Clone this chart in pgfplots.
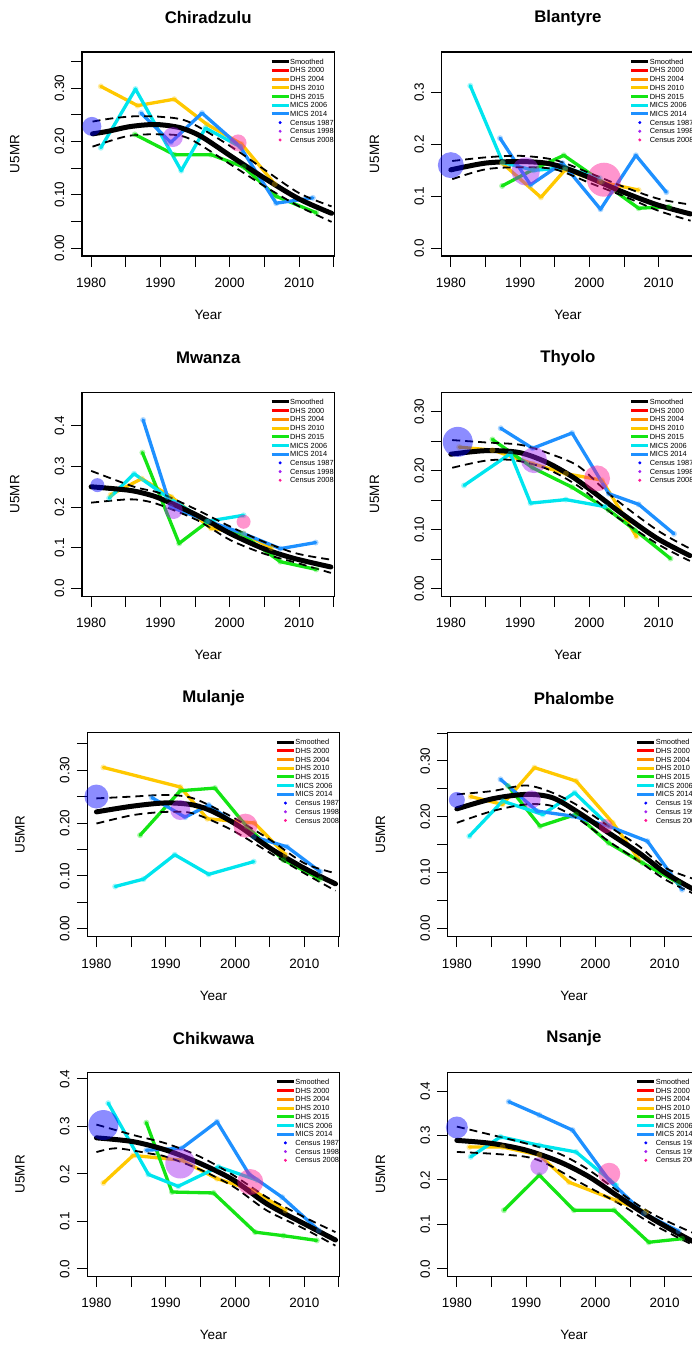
\documentclass[border=0pt]{standalone}
\usepackage{pgfplots}
\pgfplotsset{compat=1.18}
\usepackage{fontspec}
\setmainfont{Liberation Sans}
\definecolor{cDHSa}{RGB}{255,0,0}
\definecolor{cDHSb}{RGB}{255,140,0}
\definecolor{cDHSc}{RGB}{255,200,0}
\definecolor{cDHSd}{RGB}{20,228,20}
\definecolor{cMICSa}{RGB}{0,229,238}
\definecolor{cMICSb}{RGB}{30,144,255}
\definecolor{cCa}{RGB}{0,0,255}
\definecolor{cCb}{RGB}{160,32,240}
\definecolor{cCc}{RGB}{255,20,147}
\pgfplotsset{
 panel/.style={
   scale only axis, width=252.5pt, height=204pt, anchor=north west,
   xmin=1978.68, xmax=2015.12, clip=false,
   axis line style={line width=1.1pt},
   tick align=outside, tick pos=left, major tick length=10.5pt,
   every tick/.style={black, line width=1pt},
   xtick={1980,1985,...,2015}, xticklabels={1980,,1990,,2000,,2010,},
   tick label style={font=\fontsize{13.5}{14}\selectfont},
   xticklabel style={anchor=north, inner sep=0pt}, xticklabel shift=11.5pt,
   yticklabel style={rotate=90, anchor=south, inner sep=0pt}, yticklabel shift=7pt,
   title style={at={(axis description cs:0.5,1.167)}, anchor=center, yshift=-6pt, font=\bfseries\fontsize{16.8}{17}\selectfont},
   xlabel={Year}, ylabel={U5MR},
   xlabel style={at={(axis description cs:0.5,-0.289)}, anchor=center, font=\fontsize{13.5}{14}\selectfont},
   ylabel style={at={(axis description cs:-0.266,0.5)}, anchor=center, font=\fontsize{13.5}{14}\selectfont},
   legend cell align=left,
   legend style={at={(axis description cs:0.745,0.974)}, anchor=north west, draw=none, fill=none,
     inner sep=0pt, outer sep=0pt, font=\fontsize{7.4}{8}\selectfont, row sep=0pt,
     nodes={inner sep=0pt, text height=6.95pt, text depth=1.75pt},
     /tikz/every even column/.append style={column sep=3pt}},
 },
 ser/.style={line width=3.3pt, line join=round, line cap=round, mark=*, mark size=3pt,
   mark options={fill opacity=0.35, draw opacity=0}, forget plot},
 sm/.style={black, line width=5pt, smooth, line cap=round, forget plot},
 ci/.style={black, line width=1.8pt, dash pattern=on 8pt off 5pt, smooth, forget plot},
 cen/.style={only marks, mark=*, mark options={fill opacity=0.45, draw opacity=0}, forget plot},
}
\newcommand{\panellegend}{%
 \addlegendimage{legend image code/.code={\draw[black,line width=3pt] (0pt,0pt)--(17pt,0pt);}}\addlegendentry{Smoothed}
 \addlegendimage{legend image code/.code={\draw[cDHSa,line width=3pt] (0pt,0pt)--(17pt,0pt);}}\addlegendentry{DHS 2000}
 \addlegendimage{legend image code/.code={\draw[cDHSb,line width=3pt] (0pt,0pt)--(17pt,0pt);}}\addlegendentry{DHS 2004}
 \addlegendimage{legend image code/.code={\draw[cDHSc,line width=3pt] (0pt,0pt)--(17pt,0pt);}}\addlegendentry{DHS 2010}
 \addlegendimage{legend image code/.code={\draw[cDHSd,line width=3pt] (0pt,0pt)--(17pt,0pt);}}\addlegendentry{DHS 2015}
 \addlegendimage{legend image code/.code={\draw[cMICSa,line width=3pt] (0pt,0pt)--(17pt,0pt);}}\addlegendentry{MICS 2006}
 \addlegendimage{legend image code/.code={\draw[cMICSb,line width=3pt] (0pt,0pt)--(17pt,0pt);}}\addlegendentry{MICS 2014}
 \addlegendimage{legend image code/.code={\fill[cCa] (8.5pt,0pt) circle (1.3pt);}}\addlegendentry{Census 1987}
 \addlegendimage{legend image code/.code={\fill[cCb] (8.5pt,0pt) circle (1.3pt);}}\addlegendentry{Census 1998}
 \addlegendimage{legend image code/.code={\fill[cCc] (8.5pt,0pt) circle (1.3pt);}}\addlegendentry{Census 2008}
}
\begin{document}
\begin{tikzpicture}
\useasboundingbox (0pt,0pt) rectangle (692pt,-1347pt);
% ---------------- Chiradzulu
\begin{axis}[panel, at={(82pt,-52pt)}, title={Chiradzulu}, ymin=-0.015, ymax=0.3675,
  ytick={0,0.05,...,0.36}, yticklabels={0.00,,0.10,,0.20,,0.30,}]
\addplot[ser, cDHSc] coordinates {(1981.4,0.303)(1986.7,0.267)(1992,0.279)(1996.7,0.232)(2001.7,0.195)(2006.5,0.12)};
\addplot[ser, cDHSd] coordinates {(1986.3,0.213)(1992,0.175)(1997.3,0.175)(2002,0.152)(2006.7,0.097)(2012.5,0.066)};
\addplot[ser, cMICSa] coordinates {(1981.4,0.188)(1986.4,0.298)(1993,0.145)(1996.5,0.225)(2001.5,0.19)};
\addplot[ser, cMICSb] coordinates {(1987.2,0.253)(1991.5,0.198)(1996,0.253)(2001.5,0.19)(2006.7,0.084)(2012,0.094)};
\addplot[sm] coordinates {(1980.2,0.214)(1982.5,0.219)(1985.3,0.227)(1988,0.231)(1990.1,0.231)(1993,0.225)(1995.9,0.209)(2000.2,0.172)(2005,0.131)(2010,0.092)(2014.7,0.065)};
\addplot[ci] coordinates {(1980.2,0.237)(1983,0.243)(1986.3,0.247)(1990,0.246)(1994,0.237)(2000.2,0.19)(2005,0.147)(2010,0.103)(2014.7,0.078)};
\addplot[ci] coordinates {(1980.2,0.19)(1985.3,0.21)(1990,0.213)(1994,0.206)(2000.2,0.156)(2005,0.116)(2010,0.078)(2014.7,0.049)};
\addplot[cen, cCa, mark size=9.5pt] coordinates {(1980.1,0.228)};
\addplot[cen, cCb, mark size=10pt] coordinates {(1991.8,0.208)};
\addplot[cen, cCc, mark size=8.5pt] coordinates {(2001.2,0.197)};
\panellegend
\end{axis}
% ---------------- Blantyre
\begin{axis}[panel, at={(441.7pt,-52pt)}, title={Blantyre}, ymin=-0.015, ymax=0.378,
  ytick={0,0.1,0.2,0.3}, yticklabels={0.0,0.1,0.2,0.3}]
\addplot[ser, cDHSc] coordinates {(1987.4,0.164)(1993,0.098)(1996.5,0.151)(2001.5,0.128)(2007.1,0.112)};
\addplot[ser, cDHSd] coordinates {(1987.4,0.12)(1991.8,0.151)(1996.3,0.179)(2001.8,0.128)(2007.1,0.077)(2011.5,0.08)};
\addplot[ser, cMICSa] coordinates {(1982.8,0.313)(1987.5,0.165)(1992,0.15)(1996.5,0.155)(2001.5,0.135)};
\addplot[ser, cMICSb] coordinates {(1987.1,0.212)(1991.5,0.122)(1996.1,0.164)(2001.6,0.075)(2006.7,0.179)(2011.1,0.108)};
\addplot[sm] coordinates {(1980,0.151)(1985,0.164)(1989.8,0.167)(1993.7,0.164)(1996.6,0.154)(2000.2,0.135)(2004.7,0.109)(2009.8,0.0835)(2014.6,0.066)};
\addplot[ci] coordinates {(1980.2,0.168)(1985,0.175)(1990,0.178)(1995,0.17)(2000,0.145)(2005,0.118)(2010,0.095)(2014.6,0.084)};
\addplot[ci] coordinates {(1980.2,0.133)(1985,0.152)(1990,0.156)(1995,0.152)(2000,0.126)(2005,0.10)(2010,0.072)(2014.6,0.053)};
\addplot[cen, cCa, mark size=13pt] coordinates {(1980,0.16)};
\addplot[cen, cCb, mark size=14pt] coordinates {(1990.8,0.148)};
\addplot[cen, cCc, mark size=17pt] coordinates {(2002.1,0.132)};
\panellegend
\end{axis}
% ---------------- Mwanza
\begin{axis}[panel, at={(82pt,-392.3pt)}, title={Mwanza}, ymin=-0.019, ymax=0.482,
  ytick={0,0.1,0.2,0.3,0.4}, yticklabels={0.0,0.1,0.2,0.3,0.4}]
\addplot[ser, cDHSc] coordinates {(1982.8,0.23)(1987.3,0.27)(1991.6,0.225)(1997.3,0.148)(2002,0.135)(2006,0.1)};
\addplot[ser, cDHSd] coordinates {(1987.4,0.334)(1992.7,0.111)(1996.8,0.164)(2001.6,0.135)(2007.3,0.066)(2012.5,0.047)};
\addplot[ser, cMICSa] coordinates {(1982.6,0.222)(1986.2,0.282)(1991,0.225)(1996.7,0.165)(2002,0.18)};
\addplot[ser, cMICSb] coordinates {(1987.5,0.414)(1991.5,0.2)(1997,0.165)(2002,0.135)(2007.3,0.098)(2012.4,0.113)};
\addplot[sm] coordinates {(1980,0.25)(1985.2,0.242)(1987.6,0.234)(1990,0.221)(1995.3,0.18)(2000.1,0.135)(2004.9,0.098)(2009.3,0.074)(2014.6,0.053)};
\addplot[ci] coordinates {(1980,0.289)(1986.2,0.25)(1990,0.234)(1995.3,0.193)(2000.1,0.152)(2004.9,0.115)(2009.7,0.086)(2014.6,0.071)};
\addplot[ci] coordinates {(1980,0.211)(1985.2,0.219)(1987.6,0.216)(1990,0.205)(1995.3,0.168)(2000.1,0.119)(2004.9,0.086)(2009.7,0.063)(2014.6,0.0385)};
\addplot[cen, cCa, mark size=7pt] coordinates {(1980.9,0.254)};
\addplot[cen, cCb, mark size=9pt] coordinates {(1991.9,0.193)};
\addplot[cen, cCc, mark size=7pt] coordinates {(2002,0.164)};
\panellegend
\end{axis}
% ---------------- Thyolo
\begin{axis}[panel, at={(441.7pt,-392.3pt)}, title={Thyolo}, ymin=-0.013, ymax=0.333,
  ytick={0,0.05,...,0.31}, yticklabels={0.00,,0.10,,0.20,,0.30}]
\addplot[ser, cDHSc] coordinates {(1981.2,0.24)(1986,0.235)(1991.8,0.212)(1996.6,0.195)(2001.8,0.184)(2006.8,0.088)};
\addplot[ser, cDHSd] coordinates {(1986,0.253)(1991.8,0.205)(1997.5,0.172)(2002.8,0.133)(2006.6,0.099)(2011.7,0.051)};
\addplot[ser, cMICSa] coordinates {(1981.9,0.175)(1988.6,0.229)(1991.5,0.145)(1996.6,0.151)(2002.3,0.139)};
\addplot[ser, cMICSb] coordinates {(1987.2,0.272)(1991.8,0.238)(1997.5,0.264)(2002.8,0.161)(2007.1,0.143)(2012.2,0.093)};
\addplot[sm] coordinates {(1980,0.228)(1985,0.234)(1989.8,0.231)(1993.7,0.215)(1997.5,0.19)(2000.9,0.161)(2004.7,0.127)(2009.8,0.085)(2014.5,0.056)};
\addplot[ci] coordinates {(1980.2,0.252)(1985,0.248)(1990,0.244)(1994,0.23)(1998.5,0.207)(2003.3,0.156)(2009.8,0.099)(2014.5,0.068)};
\addplot[ci] coordinates {(1980.2,0.205)(1985,0.217)(1989,0.218)(1993.7,0.204)(1998.5,0.173)(2003.3,0.127)(2009.8,0.076)(2014.5,0.047)};
\addplot[cen, cCa, mark size=15pt] coordinates {(1981,0.249)};
\addplot[cen, cCb, mark size=13pt] coordinates {(1992,0.218)};
\addplot[cen, cCc, mark size=13pt] coordinates {(2001.1,0.187)};
\panellegend
\end{axis}
% ---------------- Mulanje
\begin{axis}[panel, at={(87.3pt,-732.5pt)}, title={Mulanje}, ymin=-0.0145, ymax=0.371,
  ytick={0,0.05,...,0.36}, yticklabels={0.00,,0.10,,0.20,,0.30,}]
\addplot[ser, cDHSc] coordinates {(1981,0.305)(1992.1,0.268)(1996,0.208)(2002.8,0.2)(2007.3,0.14)};
\addplot[ser, cDHSd] coordinates {(1986.3,0.177)(1992.1,0.261)(1997.1,0.266)(2001.7,0.193)(2007,0.13)(2012.3,0.094)};
\addplot[ser, cMICSa] coordinates {(1982.7,0.08)(1986.8,0.094)(1991.3,0.14)(1996.2,0.103)(2002.7,0.127)};
\addplot[ser, cMICSb] coordinates {(1988,0.248)(1992.8,0.211)(1996.2,0.234)(2002.7,0.174)(2007.5,0.155)(2012.3,0.108)};
\addplot[sm] coordinates {(1980,0.221)(1985.3,0.232)(1990.1,0.238)(1994,0.234)(1996.9,0.221)(2000.7,0.193)(2005.1,0.152)(2010,0.1145)(2014.5,0.085)};
\addplot[ci] coordinates {(1980,0.2465)(1985.3,0.25)(1990.1,0.253)(1994,0.2465)(1999.5,0.212)(2005.1,0.168)(2010,0.124)(2014.5,0.105)};
\addplot[ci] coordinates {(1980,0.199)(1985.3,0.215)(1990.1,0.221)(1994,0.218)(1999.5,0.187)(2005.1,0.143)(2010,0.105)(2014.5,0.072)};
\addplot[cen, cCa, mark size=12pt] coordinates {(1980,0.25)};
\addplot[cen, cCb, mark size=10pt] coordinates {(1992.1,0.2245)};
\addplot[cen, cCc, mark size=12pt] coordinates {(2001.5,0.195)};
\panellegend
\end{axis}
% ---------------- Phalombe
\begin{axis}[panel, at={(447.7pt,-732.5pt)}, title={Phalombe}, ymin=-0.015, ymax=0.351,
  ytick={0,0.05,...,0.36}, yticklabels={0.00,,0.10,,0.20,,0.30,}]
\addplot[ser, cDHSc] coordinates {(1982,0.236)(1986.6,0.222)(1991.2,0.288)(1997.2,0.264)(2002.5,0.189)(2006.3,0.123)};
\addplot[ser, cDHSd] coordinates {(1987.4,0.255)(1992,0.183)(1997.2,0.204)(2001.9,0.153)(2006.8,0.117)(2012,0.081)};
\addplot[ser, cMICSa] coordinates {(1981.8,0.165)(1986.6,0.228)(1992.4,0.204)(1997,0.243)(2002,0.183)};
\addplot[ser, cMICSb] coordinates {(1986.3,0.267)(1991.6,0.21)(1996.7,0.201)(2001.9,0.183)(2007.5,0.156)(2012.5,0.069)};
\addplot[sm] coordinates {(1980,0.214)(1985.1,0.232)(1990,0.24)(1993.8,0.234)(1997.6,0.207)(2001.9,0.171)(2006.3,0.135)(2010.1,0.099)(2013.8,0.072)(2015,0.066)};
\addplot[ci] coordinates {(1980,0.24)(1985.1,0.246)(1990,0.256)(1993.8,0.243)(1997.6,0.219)(2001.9,0.183)(2006.3,0.147)(2010.1,0.108)(2015,0.085)};
\addplot[ci] coordinates {(1980,0.189)(1985.1,0.21)(1990,0.222)(1993.8,0.219)(1997.6,0.195)(2001.9,0.156)(2006.3,0.12)(2010.1,0.087)(2015,0.057)};
\addplot[cen, cCa, mark size=8pt] coordinates {(1980,0.23)};
\addplot[cen, cCb, mark size=9pt] coordinates {(1990.8,0.231)};
\addplot[cen, cCc, mark size=7pt] coordinates {(2001.5,0.183)};
\panellegend
\end{axis}
% ---------------- Chikwawa
\begin{axis}[panel, at={(87.3pt,-1072.3pt)}, title={Chikwawa}, ymin=-0.0155, ymax=0.414,
  ytick={0,0.1,0.2,0.3,0.4}, yticklabels={0.0,0.1,0.2,0.3,0.4}]
\addplot[ser, cDHSc] coordinates {(1981,0.181)(1985.3,0.239)(1992.3,0.229)(1997.4,0.19)(2002.7,0.165)(2007.3,0.123)};
\addplot[ser, cDHSd] coordinates {(1987.2,0.308)(1990.9,0.162)(1996.9,0.16)(2002.9,0.0775)(2007,0.07)(2011.8,0.06)};
\addplot[ser, cMICSa] coordinates {(1981.7,0.349)(1987.5,0.199)(1991.8,0.174)(1997.6,0.215)(2003.2,0.187)};
\addplot[ser, cMICSb] coordinates {(1987.2,0.25)(1992.3,0.254)(1997.4,0.31)(2002,0.2)(2006.8,0.151)(2012.1,0.081)};
\addplot[sm] coordinates {(1980,0.276)(1985.3,0.268)(1990.1,0.25)(1995,0.222)(1999.8,0.187)(2004.6,0.137)(2010,0.095)(2014.5,0.061)};
\addplot[ci] coordinates {(1980,0.304)(1985.3,0.282)(1990.1,0.264)(1995,0.236)(1999.8,0.197)(2004.6,0.151)(2010,0.109)(2014.5,0.0775)};
\addplot[ci] coordinates {(1980,0.246)(1982.9,0.254)(1987.7,0.243)(1990.1,0.236)(1995,0.209)(1999.8,0.173)(2004.6,0.123)(2010,0.0845)(2014.5,0.049)};
\addplot[cen, cCa, mark size=15pt] coordinates {(1981,0.303)};
\addplot[cen, cCb, mark size=15pt] coordinates {(1992.1,0.222)};
\addplot[cen, cCc, mark size=13pt] coordinates {(2002.2,0.183)};
\panellegend
\end{axis}
% ---------------- Nsanje
\begin{axis}[panel, at={(447.7pt,-1072.3pt)}, title={Nsanje}, ymin=-0.0165, ymax=0.442,
  ytick={0,0.1,0.2,0.3,0.4}, yticklabels={0.0,0.1,0.2,0.3,0.4}]
\addplot[ser, cDHSc] coordinates {(1981.8,0.274)(1986.6,0.274)(1991.9,0.256)(1996.2,0.195)(2003,0.154)(2007.3,0.128)};
\addplot[ser, cDHSd] coordinates {(1986.8,0.132)(1991.9,0.211)(1996.9,0.132)(2002.7,0.132)(2007.7,0.06)(2012.5,0.068)};
\addplot[ser, cMICSa] coordinates {(1982,0.252)(1986.3,0.297)(1991.9,0.278)(1997.2,0.263)(2003,0.188)};
\addplot[ser, cMICSb] coordinates {(1987.5,0.376)(1991.9,0.346)(1996.7,0.312)(2002,0.199)(2007,0.125)(2012,0.085)};
\addplot[sm] coordinates {(1980,0.289)(1985.1,0.282)(1990,0.267)(1994.8,0.241)(1999.1,0.207)(2003.4,0.162)(2008.2,0.113)(2013.8,0.064)(2015,0.058)};
\addplot[ci] coordinates {(1980,0.32)(1985.1,0.301)(1990,0.282)(1994.8,0.259)(1999.1,0.222)(2003.4,0.173)(2008.2,0.124)(2013.8,0.083)(2015,0.078)};
\addplot[ci] coordinates {(1980,0.263)(1985.1,0.259)(1990,0.252)(1992.9,0.237)(1997.7,0.195)(2003.4,0.147)(2008.2,0.101)(2013.8,0.056)(2015,0.05)};
\addplot[cen, cCa, mark size=11pt] coordinates {(1980,0.318)};
\addplot[cen, cCb, mark size=9pt] coordinates {(1991.9,0.231)};
\addplot[cen, cCc, mark size=11pt] coordinates {(2002,0.214)};
\panellegend
\end{axis}
\end{tikzpicture}
\end{document}
